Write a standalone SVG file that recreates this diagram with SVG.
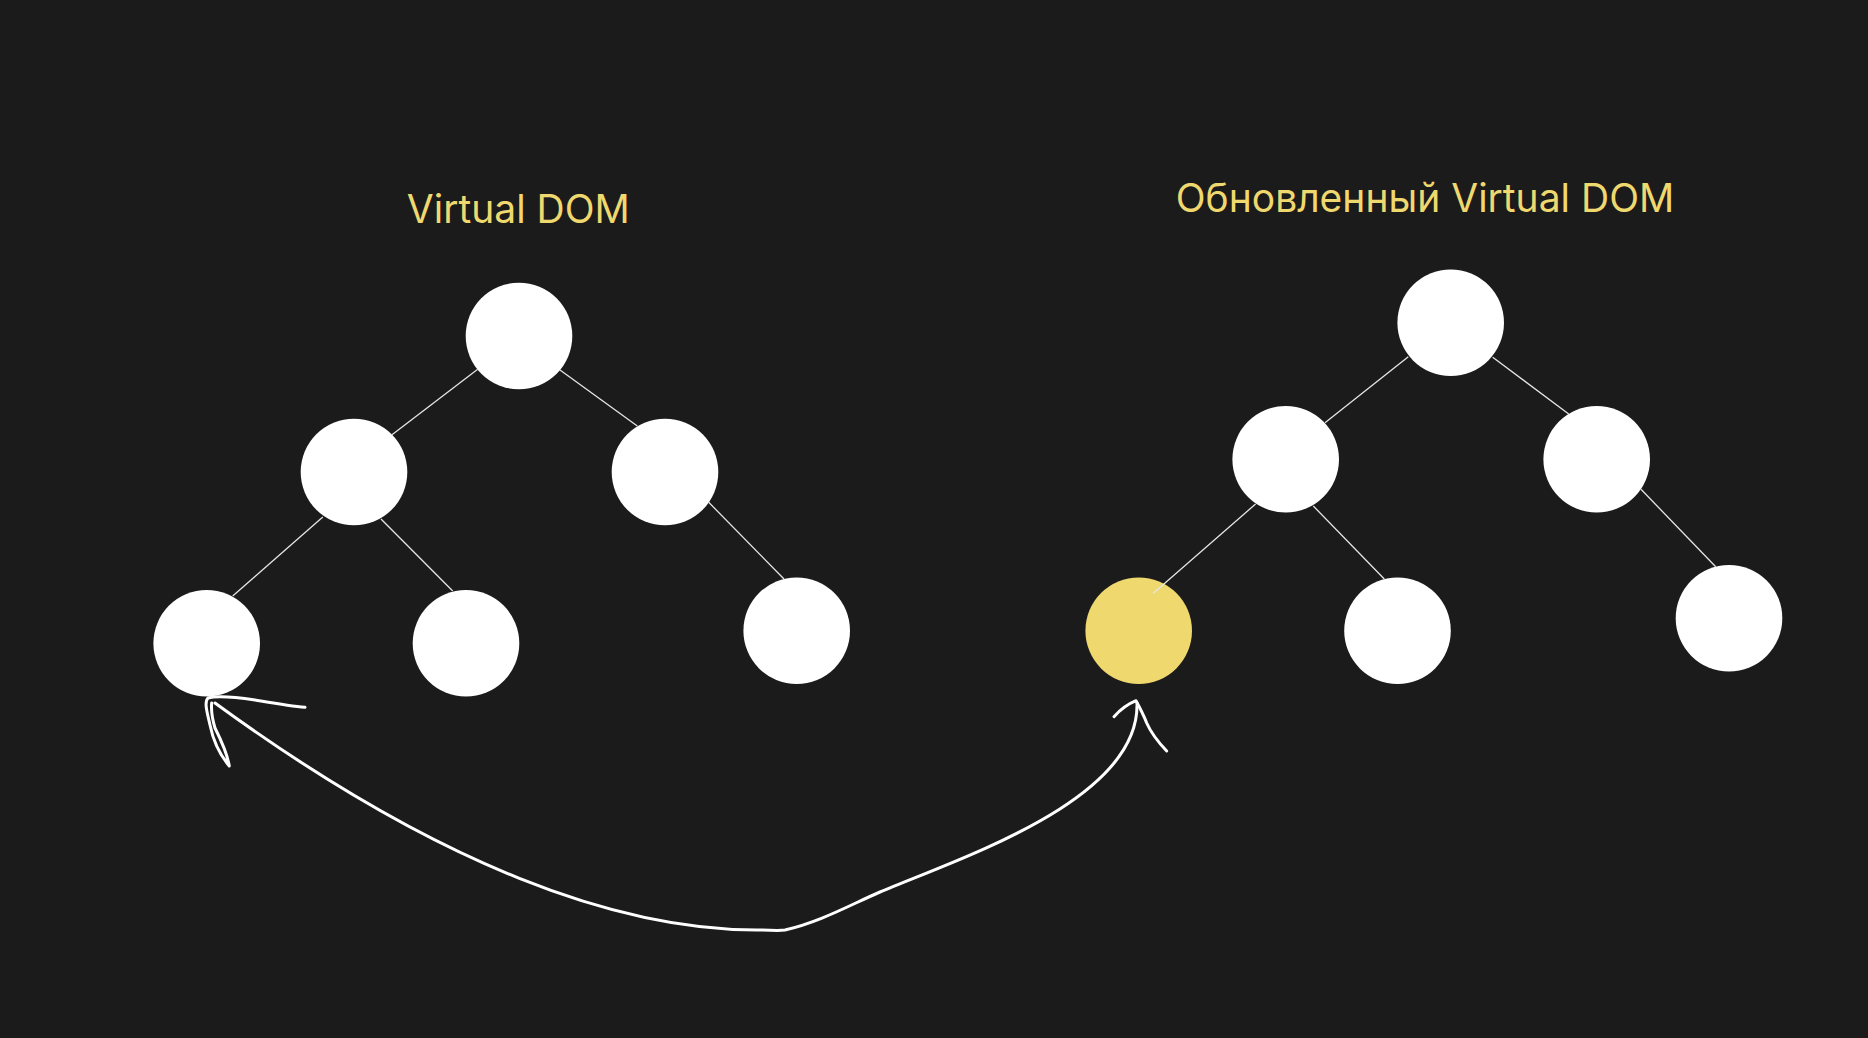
<svg xmlns="http://www.w3.org/2000/svg" width="1868" height="1038" viewBox="0 0 1868 1038">
<style>
.bg{fill:#1b1b1b}
.title{font-family:Inter,"Noto Sans","Liberation Sans",sans-serif;font-size:39px;fill:#efd86e;text-anchor:middle}
.node{fill:#ffffff}
.hl{fill:#efd86e}
.edge{stroke:#e6e6e6;stroke-width:1.3;fill:none}
.ink{stroke:#ffffff;stroke-width:3;fill:none;stroke-linecap:round;stroke-linejoin:round}
</style>
<rect class="bg" x="0" y="0" width="1868" height="1038"/>
<g id="title-left"><text class="title" x="518.3" y="223.3">Virtual DOM</text></g>
<g id="title-right"><text class="title" x="1425" y="212.3">Обновленный Virtual DOM</text></g>
<g id="nodes">
<g id="l-root"><circle class="node" cx="519" cy="336" r="53.3"/></g>
<g id="l-left"><circle class="node" cx="354" cy="472" r="53.3"/></g>
<g id="l-right"><circle class="node" cx="665" cy="472" r="53.3"/></g>
<g id="l-leaf1"><circle class="node" cx="206.7" cy="643.3" r="53.3"/></g>
<g id="l-leaf2"><circle class="node" cx="466" cy="643.3" r="53.3"/></g>
<g id="l-leaf3"><circle class="node" cx="796.7" cy="630.7" r="53.3"/></g>
<g id="r-root"><circle class="node" cx="1450.7" cy="322.7" r="53.3"/></g>
<g id="r-left"><circle class="node" cx="1285.7" cy="459.3" r="53.3"/></g>
<g id="r-right"><circle class="node" cx="1596.7" cy="459.3" r="53.3"/></g>
<g id="r-leaf1"><circle class="hl" cx="1138.7" cy="630.7" r="53.3"/></g>
<g id="r-leaf2"><circle class="node" cx="1397.5" cy="630.7" r="53.3"/></g>
<g id="r-leaf3"><circle class="node" cx="1729" cy="618.2" r="53.3"/></g>
</g>
<g id="connectors">
<line class="edge" x1="477.7" y1="369.3" x2="392" y2="434.8"/>
<line class="edge" x1="560" y1="370" x2="637.3" y2="426"/>
<line class="edge" x1="322.8" y1="517" x2="232.7" y2="596"/>
<line class="edge" x1="381" y1="519" x2="452.7" y2="591"/>
<line class="edge" x1="708.7" y1="502.3" x2="784" y2="579"/>
<line class="edge" x1="1408.3" y1="356.7" x2="1325" y2="422.7"/>
<line class="edge" x1="1492.7" y1="357.3" x2="1568.7" y2="414"/>
<line class="edge" x1="1255.6" y1="504" x2="1153.3" y2="593.3"/>
<line class="edge" x1="1313.3" y1="506" x2="1384.3" y2="579"/>
<line class="edge" x1="1641" y1="489.3" x2="1715.7" y2="566.7"/>
<path class="ink" d="M215,703 C440,867 620,931 760,930 C770,930 778,931 785,930 C820,922 850,905 880,892 C960,858 1140,800 1137,703"/>
<path class="ink" d="M1114,716.7 C1120,710 1128,704 1136,700.7 C1140,708 1144,716 1146.7,723 C1152,735 1160,744 1166.7,751"/>
<path class="ink" d="M305,707.3 C290,706 273,703 255,700 C235,697 215,696 208,698 C204,702 207,712 210,725 C213,740 220,755 229.3,766 C227,752 220,738 215,728 C212,718 211,710 211.7,703"/>
</g>
</svg>
